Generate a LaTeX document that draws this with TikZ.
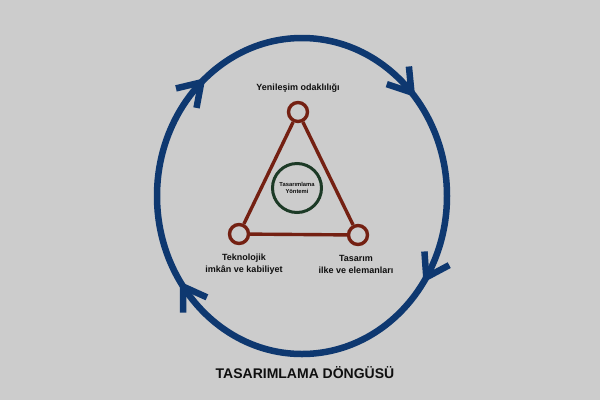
\documentclass[tikz,border=0pt]{standalone}
\usepackage{fontspec}
\setmainfont{Liberation Sans}
\definecolor{bgc}{RGB}{204,204,204}
\definecolor{cyc}{RGB}{14,56,112}
\definecolor{tric}{RGB}{116,32,18}
\definecolor{grc}{RGB}{28,58,38}
\definecolor{txc}{RGB}{15,15,15}
\begin{document}
\begin{tikzpicture}[x=1pt,y=-1pt,
  cycle/.style={draw=cyc,line width=6.5pt},
  barb/.style={draw=cyc,line width=6.5pt,line join=round},
  vtx/.style={circle,draw=tric,line width=3.4pt,minimum size=19pt,inner sep=0pt},
  edge/.style={draw=tric,line width=3.4pt},
  core/.style={circle,draw=grc,line width=3pt,minimum size=49pt,inner sep=0pt,
    align=center,font=\fontsize{5.8}{7.2}\selectfont\bfseries,text=txc},
  lbl/.style={align=center,font=\fontsize{9}{12}\selectfont\bfseries,text=txc},
  ttl/.style={font=\fontsize{14}{16}\selectfont\bfseries,text=txc}]
\useasboundingbox (0,0) rectangle (600,400);
\fill[bgc] (0,0) rectangle (600,400);
% cycle
\draw[cycle] (302,196) ellipse [x radius=145, y radius=158];
\foreach \t in {-41,31,145,226} {
  \pgfmathsetmacro\px{302+145*cos(\t)}
  \pgfmathsetmacro\py{196+158*sin(\t)}
  \pgfmathsetmacro\ph{atan2(158*cos(\t),-145*sin(\t))}
  \coordinate (tip) at (\px,\py);
  \draw[barb] (tip) ++(\ph+180+33:26) -- (tip) -- ++(\ph+180-33:26);
}
% triangle
\node[vtx] (top) at (298,112) {};
\node[vtx] (bl) at (239,234) {};
\node[vtx] (br) at (358,235) {};
\draw[edge] (top) -- (bl);
\draw[edge] (top) -- (br);
\draw[edge] (bl) -- (br);
\node[core] (core) at (297,188) {Tasarımlama\\Yöntemi};
% labels
\node[lbl] (ltop) at (298,88) {Yenileşim odaklılığı};
\node[lbl] (lbl) at (244,264) {Teknolojik\\imkân ve kabiliyet};
\node[lbl] (lbr) at (356,264) {Tasarım\\ilke ve elemanları};
\node[ttl] (title) at (305,373) {TASARIMLAMA DÖNGÜSÜ};
\end{tikzpicture}
\end{document}
